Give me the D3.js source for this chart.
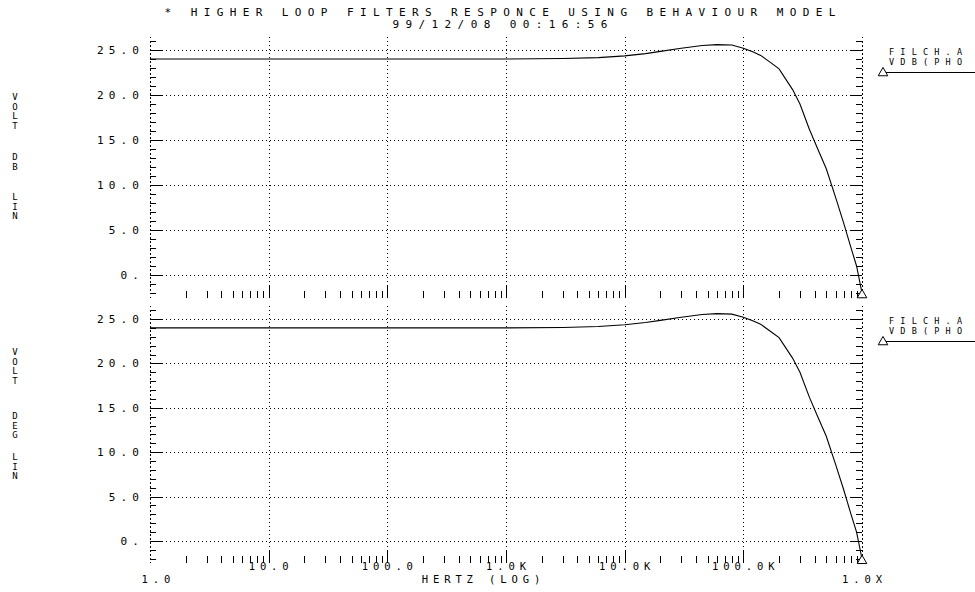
<!DOCTYPE html>
<html><head><meta charset="utf-8">
<script src="https://cdn.jsdelivr.net/npm/d3@7"></script>
<style>
html,body{margin:0;padding:0;background:#fff;overflow:hidden}
text{font-family:"DejaVu Sans Mono",monospace;fill:#000}
</style></head>
<body><svg id="c" width="975" height="592"></svg>
<script>
// ---- data ----
const titleLines = ["* HIGHER LOOP FILTERS RESPONCE USING BEHAVIOUR MODEL", "99/12/08 00:16:56"];
const freqHz = [1, 10, 100, 1000, 3000, 6000, 10000, 15000, 20000, 30000, 45000, 60000, 80000, 100000, 120000, 140000, 170000, 200000, 260000, 300000, 360000, 430000, 500000, 600000, 700000, 800000, 900000, 1000000];
const magDb  = [24.0, 24.0, 24.0, 24.0, 24.05, 24.15, 24.35, 24.6, 24.85, 25.2, 25.5, 25.6, 25.55, 25.2, 24.8, 24.4, 23.6, 22.9, 20.6, 19.0, 16.2, 13.8, 11.8, 8.6, 5.8, 3.2, 1.0, -2.0];
const phaseDeg = [24.0, 24.0, 24.0, 24.0, 24.05, 24.15, 24.35, 24.6, 24.85, 25.2, 25.5, 25.6, 25.55, 25.2, 24.8, 24.4, 23.6, 22.9, 20.6, 19.0, 16.2, 13.8, 11.8, 8.6, 5.8, 3.2, 1.0, -2.0];
const yTickValues = [0, 5, 10, 15, 20, 25];
const yTickLabels = ["0.", "5.0", "10.0", "15.0", "20.0", "25.0"];
const xDecades = [1, 10, 100, 1000, 10000, 100000, 1000000];
const xTickLabels = ["1.0", "10.0", "100.0", "1.0K", "10.0K", "100.0K", "1.0X"];
const xAxisTitle = "HERTZ (LOG)";
const topAxisWords = ["VOLT", "DB", "LIN"];
const topAxisWordY = [97, 157, 197];
const botAxisWords = ["VOLT", "DEG", "LIN"];
const botAxisWordY = [352, 416, 457];
const legendLines = ["FILCH.A", "VDB(PHO"];

// ---- drawing ----
const svg = d3.select("#c");
const x = d3.scaleLog().domain([1, 1e6]).range([150, 862]);

function txt(s, px, py, size, ls, anchor) {
  let dx = 0;
  if (anchor === "middle") dx = ls / 2;
  if (anchor === "end") dx = ls;
  svg.append("text").attr("x", px + dx).attr("y", py)
    .attr("font-size", size).attr("letter-spacing", ls)
    .attr("text-anchor", anchor || "start").attr("dominant-baseline", "middle")
    .text(s);
}

// vertical stacked word: one text element, one tspan per letter
function vword(s, px, py, pitch) {
  const t = svg.append("text").attr("x", px).attr("y", py).attr("font-size", 9)
    .attr("text-anchor", "middle").attr("dominant-baseline", "middle");
  s.split("").forEach((c, i) => t.append("tspan").attr("x", px).attr("y", py + i * pitch).text(c));
}

txt(titleLines[0], 500, 13, 11, 6.4, "middle");
txt(titleLines[1], 500, 25, 11, 6.4, "middle");

function panel(values, y, tickRowY, words, wordsY) {
  const g = svg.append("g").attr("shape-rendering", "crispEdges");
  const x0 = x.range()[0], x1 = x.range()[1];
  // horizontal dotted grid
  g.selectAll("line.hg").data(yTickValues).join("line")
    .attr("x1", x0).attr("x2", x1).attr("y1", d => Math.round(y(d)) + .5).attr("y2", d => Math.round(y(d)) + .5)
    .attr("stroke", "#000").attr("stroke-dasharray", "1,3");
  // vertical dotted grid at decades
  const yTopLine = y(26.5), yBot = tickRowY + 6;
  g.selectAll("line.vg").data(xDecades).join("line")
    .attr("x1", d => Math.round(x(d)) + .5).attr("x2", d => Math.round(x(d)) + .5)
    .attr("y1", yTopLine).attr("y2", yBot)
    .attr("stroke", "#000").attr("stroke-dasharray", "1,3");
  // y axis minor/major ticks (left and right)
  const yt = d3.range(-2, 27);
  [[x0, 1], [x1, -1]].forEach(([ax, dir]) => {
    g.selectAll(null).data(yt).join("line")
      .attr("x1", ax).attr("x2", d => ax + dir * (d % 5 === 0 ? 12 : 6))
      .attr("y1", d => Math.round(y(d)) + .5).attr("y2", d => Math.round(y(d)) + .5)
      .attr("stroke", "#000");
    g.append("line").attr("x1", ax + .5).attr("x2", ax + .5)
      .attr("y1", y(26)).attr("y2", y(-2)).attr("stroke", "#000").attr("stroke-dasharray", "2,2");
  });
  // x ticks row
  const minor = [];
  xDecades.slice(0, -1).forEach(d => { for (let k = 2; k <= 9; k++) minor.push(d * k); });
  g.selectAll(null).data(minor).join("line")
    .attr("x1", d => Math.round(x(d)) + .5).attr("x2", d => Math.round(x(d)) + .5)
    .attr("y1", tickRowY - 3).attr("y2", tickRowY + 4).attr("stroke", "#000");
  g.selectAll(null).data(xDecades.slice(1, -1)).join("line")
    .attr("x1", d => Math.round(x(d)) + .5).attr("x2", d => Math.round(x(d)) + .5)
    .attr("y1", tickRowY - 9).attr("y2", tickRowY + 4).attr("stroke", "#000");
  // y labels
  yTickValues.forEach((v, i) => txt(yTickLabels[i], 139, y(v) + 1, 11, 5.2, "end"));
  // axis title (stacked letters)
  words.forEach((w, i) => vword(w, 15, wordsY[i], 9.5));
  // curve
  const line = d3.line().x((d, i) => x(freqHz[i])).y(d => y(d));
  svg.append("path").datum(values).attr("d", line).attr("fill", "none").attr("stroke", "#000").attr("stroke-width", 1.1);
  // end marker triangle
  const ex = x(freqHz[freqHz.length - 1]), ey = y(values[values.length - 1]);
  svg.append("path").attr("d", d3.symbol(d3.symbolTriangle, 40)()).attr("transform", `translate(${ex},${ey + 2})`)
    .attr("fill", "#fff").attr("stroke", "#000");
  // legend (one text element, two lines)
  const ly = y(25);
  const lt = svg.append("text").attr("font-size", 8.5).attr("letter-spacing", 6.2).attr("dominant-baseline", "middle");
  legendLines.forEach((s, i) => lt.append("tspan").attr("x", 889).attr("y", ly + 2 + i * 10).text(s));
  svg.append("path").attr("d", d3.symbol(d3.symbolTriangle, 40)()).attr("transform", `translate(883,${ly + 23})`)
    .attr("fill", "#fff").attr("stroke", "#000");
  svg.append("line").attr("x1", 886).attr("x2", 975).attr("y1", ly + 22.5).attr("y2", ly + 22.5).attr("stroke", "#000");
}

const yTop = d3.scaleLinear().domain([0, 25]).range([275, 50]);
const yBot = d3.scaleLinear().domain([0, 25]).range([541, 319]);
panel(magDb, yTop, 294, topAxisWords, topAxisWordY);
panel(phaseDeg, yBot, 559, botAxisWords, botAxisWordY);

// x labels
xDecades.forEach((d, i) => {
  const first = i === 0, last = i === xDecades.length - 1;
  txt(xTickLabels[i], x(d) + (first ? 6 : 0), (first || last) ? 580 : 567, 10.5, 4.9, "middle");
});
txt(xAxisTitle, 481, 580, 10.5, 4.9, "middle");
</script></body></html>
